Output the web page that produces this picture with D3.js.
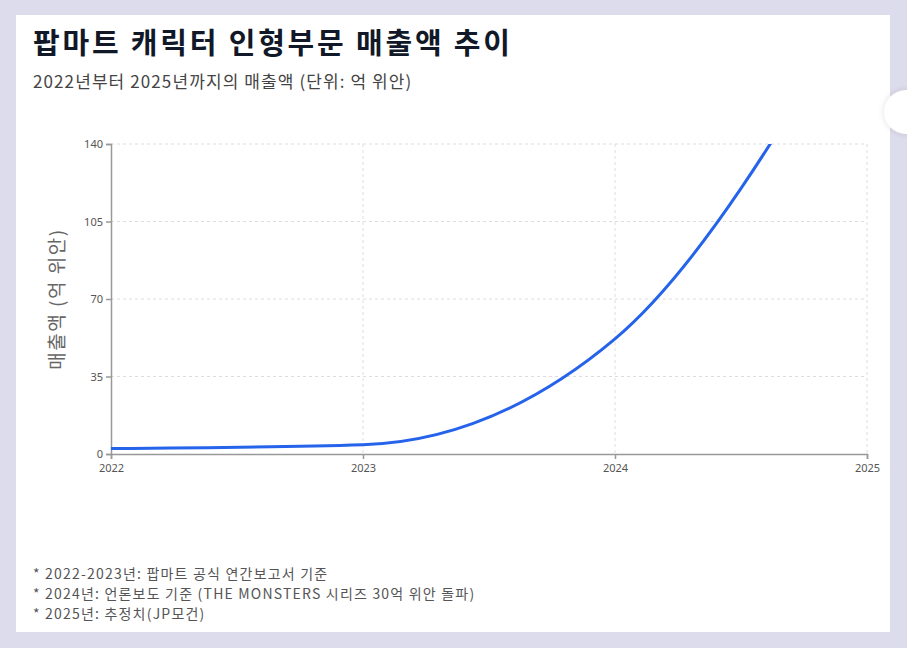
<!DOCTYPE html>
<html><head><meta charset="utf-8">
<script src="https://cdn.jsdelivr.net/npm/d3@7"></script>
<style>
body{margin:0;background:#dcdcec;font-family:"Noto Sans CJK KR","Noto Sans",sans-serif;}
#card{position:absolute;left:16px;top:15px;width:874px;height:617px;background:#fff;}
#bump{position:absolute;left:884px;top:90px;width:44px;height:44px;border-radius:50%;background:#fff;box-shadow:0 0 6px rgba(0,0,0,0.12);}
</style></head>
<body>
<div id="card"></div><div id="bump"></div>
<svg id="chart" width="907" height="648" style="position:absolute;left:0;top:0"></svg>
<script>
var years = [2022, 2023, 2024, 2025];
var sales = [2.5, 4.2, 52, 212];
var yTicks = [0, 35, 70, 105, 140];
var notes = [
  "* 2022-2023년: 팝마트 공식 연간보고서 기준",
  "* 2024년: 언론보도 기준 (THE MONSTERS 시리즈 30억 위안 돌파)",
  "* 2025년: 추정치(JP모건)"
];

var svg = d3.select("#chart");
var x = d3.scaleLinear().domain([2022, 2025]).range([111, 867]);
var y = d3.scaleLinear().domain([0, 140]).range([454, 144]);

svg.append("text").attr("x", 33).attr("y", 54).attr("font-size", 29).attr("font-weight", "bold")
  .attr("letter-spacing", 2.8).attr("fill", "#111827").text("팝마트 캐릭터 인형부문 매출액 추이");
svg.append("text").attr("x", 33).attr("y", 88).attr("font-size", 17).attr("fill", "#444")
  .attr("letter-spacing", 1.1).text("2022년부터 2025년까지의 매출액 (단위: 억 위안)");

// grid
svg.append("g").selectAll("line").data(yTicks.slice(1)).join("line")
  .attr("x1", 111).attr("x2", 867).attr("y1", y).attr("y2", y)
  .attr("stroke", "#ddd").attr("stroke-dasharray", "3,3");
svg.append("g").selectAll("line").data(years.slice(1)).join("line")
  .attr("x1", x).attr("x2", x).attr("y1", 144).attr("y2", 454)
  .attr("stroke", "#ddd").attr("stroke-dasharray", "3,3");

var xa = svg.append("g").attr("transform", "translate(0,454)")
  .call(d3.axisBottom(x).tickValues(years).tickFormat(d3.format("d")).tickSize(5));
var ya = svg.append("g").attr("transform", "translate(111,0)")
  .call(d3.axisLeft(y).tickValues(yTicks).tickSize(5));
[xa, ya].forEach(function(a) {
  a.selectAll("path,line").attr("stroke", "#999").attr("stroke-width", 1.5);
  a.selectAll("text").attr("fill", "#555").attr("font-size", 11).attr("font-family", "Noto Sans, sans-serif");
});
xa.selectAll("text").attr("dy", "0.9em");

svg.append("text").attr("transform", "translate(64,299) rotate(-90)").attr("text-anchor", "middle")
  .attr("font-size", 19).attr("letter-spacing", 1.5).attr("fill", "#666").text("매출액 (억 위안)");

svg.append("clipPath").attr("id", "clip").append("rect")
  .attr("x", 111).attr("y", 144).attr("width", 756).attr("height", 310);
var line = d3.line().x(function(d, i) { return x(years[i]); }).y(function(d) { return y(d); })
  .curve(d3.curveMonotoneX);
svg.append("path").datum(sales).attr("d", line).attr("clip-path", "url(#clip)")
  .attr("fill", "none").attr("stroke", "#2563eb").attr("stroke-width", 3);

svg.append("g").selectAll("text").data(notes).join("text")
  .attr("x", 33).attr("y", function(d, i) { return 579 + i * 20; })
  .attr("font-size", 14).attr("letter-spacing", 1.2).attr("fill", "#555").text(function(d) { return d; });
</script>
</body></html>
